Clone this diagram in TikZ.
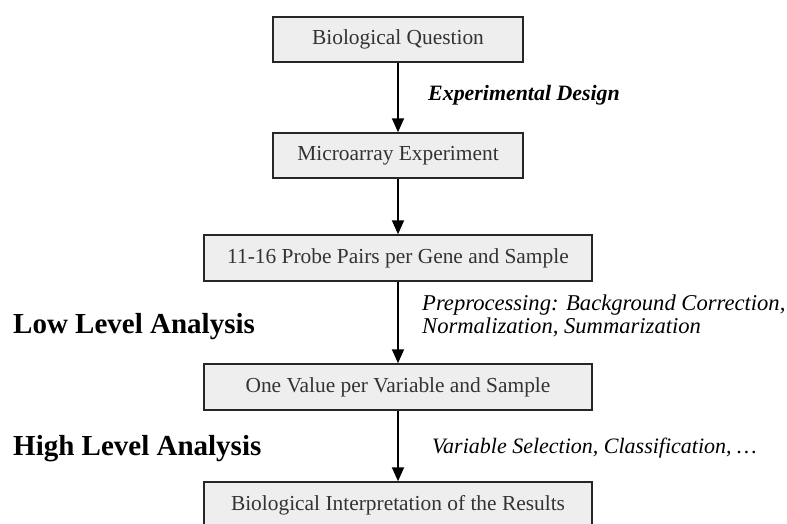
\documentclass[tikz,border=0pt]{standalone}
\usepackage{fontspec}
\setmainfont{Liberation Serif}
\usetikzlibrary{arrows.meta}
\definecolor{boxgray}{HTML}{EEEEEE}
\definecolor{txtgray}{HTML}{333333}
\tikzset{
    BX1/.style ={rectangle,minimum width = 250pt, minimum height = 45pt, draw=black!85, line width=1.5pt, fill=boxgray, text=txtgray, font=\fontsize{21.4}{25}\selectfont},
    BX2/.style ={rectangle,minimum width = 388pt, minimum height = 46pt, draw=black!85, line width=1.5pt, fill=boxgray, text=txtgray, font=\fontsize{21.4}{25}\selectfont},
    HD/.style ={anchor=base west, inner sep=0pt, font=\fontsize{29}{32}\selectfont\bfseries},
    LB/.style ={anchor=base west, inner sep=0pt, font=\fontsize{22}{24}\selectfont\itshape},
    AR/.style ={line width=1.9pt, -{Triangle[width=12pt,length=14pt]}}}

\begin{document}
\begin{tikzpicture}[x=1pt,y=-1pt]
        \useasboundingbox (0,0) rectangle (787,523);
        \node[BX1] (1) at(398,39.5){Biological Question};
        \node[BX1] (2) at(398,155.5){Microarray Experiment};
        \node[BX2] (3) at(398,258){11-16 Probe Pairs per Gene and Sample};
        \node[BX2] (4) at(398,387){One Value per Variable and Sample};
        \node[BX2] (5) at(398,505){Biological Interpretation of the Results};
        \node[LB,font=\fontsize{21.9}{25}\selectfont\bfseries\itshape] (6) at(428,100){Experimental Design};
        \node[LB,anchor=west,align=left,font=\fontsize{22.6}{23.5}\selectfont\itshape] (7) at(422,316){Preprocessing: Background Correction,\\Normalization, Summarization};
        \node[LB] (8) at(432,453){Variable Selection, Classification, \dots};
        \node[HD] (9) at(13,333){Low Level Analysis};
        \node[HD] (10) at(13,455){High Level Analysis};
        \draw[AR] (1) -- (2);
        \draw[AR] (2) -- (3);
        \draw[AR] (3) -- (4);
        \draw[AR] (4) -- (5);
    \end{tikzpicture}
\end{document}
